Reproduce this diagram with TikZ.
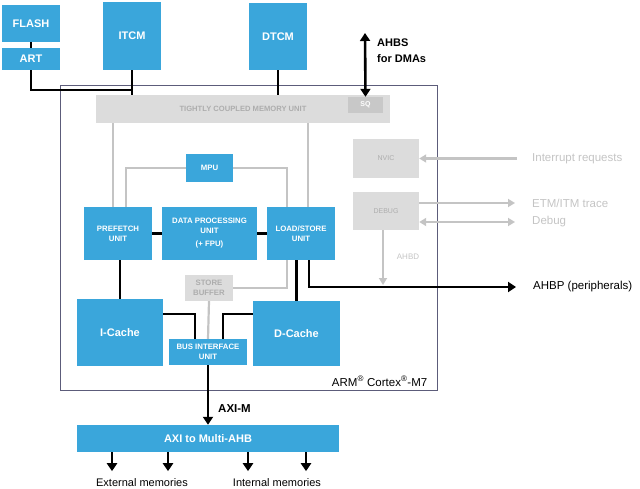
\documentclass[tikz,border=0pt]{standalone}
\usepackage{fontspec}
\setmainfont{Liberation Sans}
\usetikzlibrary{arrows.meta,positioning,calc}
\definecolor{corecolor}{HTML}{3AA6DB}
\definecolor{dimcolor}{HTML}{DCDCDC}
\definecolor{dimtext}{HTML}{ADADAD}
\definecolor{dimline}{HTML}{C4C4C4}
\definecolor{sqcolor}{HTML}{C8C8C8}
\definecolor{framecolor}{HTML}{5C5C7A}

\begin{document}
\begin{tikzpicture}[
    x=1pt, y=-1pt,
    blk/.style={rectangle, fill=corecolor, text=white, align=center, inner sep=1pt, font=\bfseries\fontsize{7.8}{10}\selectfont},
    bigblk/.style={blk, font=\bfseries\fontsize{11}{13}\selectfont},
    dimblk/.style={rectangle, fill=dimcolor, text=dimtext, align=center, inner sep=1pt, font=\fontsize{7}{9}\selectfont},
    bus/.style={line width=2.6pt, black, >={Triangle[length=8pt, width=10pt]}},
    busarrow/.style={bus, ->},
    dimbus/.style={line width=2.2pt, dimline, >={Triangle[length=7pt, width=8pt]}},
    dimarrow/.style={dimbus, ->},
    txt/.style={font=\fontsize{11.5}{14}\selectfont, inner sep=0pt},
    dimtxt/.style={txt, text=dimline}
]
\useasboundingbox (0,0) rectangle (640,489);

% Core frame
\node[draw=framecolor, line width=0.9pt, minimum width=377, minimum height=305, inner sep=0pt] (core) at (248.5,237.5) {};
\node[txt, anchor=south east] (corelbl) at ([xshift=-10, yshift=4]core.south east) {ARM\textsuperscript{®} Cortex\textsuperscript{®}-M7};

% External memories on top
\node[bigblk, minimum width=58, minimum height=37] (flash) at (31,23.5) {FLASH};
\node[bigblk, minimum width=58, minimum height=22] (art) at (31,59) {ART};
\node[bigblk, minimum width=58, minimum height=68] (itcm) at (132,36) {ITCM};
\node[bigblk, minimum width=58, minimum height=67] (dtcm) at (278,36.5) {DTCM};

% Tightly coupled memory unit
\node[dimblk, minimum width=294, minimum height=28, font=\bfseries\fontsize{7.6}{9}\selectfont] (tcm) at (243,109) {TIGHTLY COUPLED MEMORY UNIT};
\node[dimblk, fill=sqcolor, text=white, minimum width=35, minimum height=16, font=\bfseries\fontsize{7}{8}\selectfont] (sq) at (365.5,105) {SQ};

% Processor units
\node[blk, minimum width=47, minimum height=28] (mpu) at (209.5,168) {MPU};
\node[blk, minimum width=68, minimum height=53] (prefetch) at (118,233.5) {PREFETCH\\UNIT};
\node[blk, minimum width=95, minimum height=53] (dpu) at (209.5,233.5) {DATA PROCESSING\\UNIT\\[3pt](+ FPU)};
\node[blk, minimum width=68, minimum height=53] (lsu) at (301,233.5) {LOAD/STORE\\UNIT};
\node[dimblk, minimum width=48, minimum height=26, font=\bfseries\fontsize{7.8}{10}\selectfont] (sbuf) at (209,288) {STORE\\BUFFER};
\node[bigblk, minimum width=86, minimum height=67] (icache) at (120,332.5) {I-Cache};
\node[bigblk, minimum width=87, minimum height=65] (dcache) at (296.5,333.5) {D-Cache};
\node[blk, minimum width=78, minimum height=26] (biu) at (208,352) {BUS INTERFACE\\UNIT};

% NVIC and debug
\node[dimblk, minimum width=66, minimum height=39] (nvic) at (386,158.5) {NVIC};
\node[dimblk, minimum width=66, minimum height=38] (debug) at (386,211) {DEBUG};

% AXI bridge
\node[bigblk, minimum width=262, minimum height=27] (axi) at (208,438.5) {AXI to Multi-AHB};

% Free ends
\coordinate (dmaend) at (365,33);
\coordinate (irqsrc) at (517,158.5);
\coordinate (etmend) at (515,203);
\coordinate (dbgend) at (515,222);
\coordinate (ahbpend) at (516,287);
\coordinate (pfA) at ([xshift=-5]prefetch.north);
\coordinate (pfB) at ([xshift=8]prefetch.north);
\coordinate (lsA) at ([xshift=-14]lsu.north);
\coordinate (lsB) at ([xshift=7]lsu.north);
\coordinate (lsC) at ([xshift=-14]lsu.south);
\coordinate (dbgdown) at ([xshift=-3]debug.south);

% Grey connectors
\draw[dimbus] (tcm.south -| pfA) -- (pfA);
\draw[dimbus] (tcm.south -| lsB) -- (lsB);
\draw[dimbus] (mpu.west) -| (pfB);
\draw[dimbus] (mpu.east) -| (lsA);
\draw[dimbus] (sbuf.east) -| (lsC);
\draw[dimbus] (sbuf.south) -- (biu.north);
\draw[dimarrow] (irqsrc) -- (nvic.east);
\draw[dimarrow] ([yshift=8]debug.east) -- (etmend);
\draw[dimbus, <->] ([yshift=-11]debug.east) -- (dbgend);
\draw[dimarrow] (dbgdown) -- ([yshift=2]dbgdown |- ahbpend);

% Black connectors
\draw[bus] (flash.south) -- (art.north);
\draw[bus] (art.south) -- ++(0,20) -| (itcm.south);
\draw[bus] (itcm.south) -- (itcm.south |- tcm.north);
\draw[bus] (dtcm.south) -- (dtcm.south |- tcm.north);
\draw[bus, <->] (dmaend) -- (sq.north);
\draw[bus] (prefetch.east) -- (dpu.west);
\draw[bus] (dpu.east) -- (lsu.west);
\draw[bus] (icache.north) -- (icache.north |- prefetch.south);
\draw[bus] (dcache.north) -- (dcache.north |- lsu.south);
\draw[busarrow] ([xshift=8]lsu.south) |- (ahbpend);
\draw[bus] ([yshift=18.5]icache.east) -| ([xshift=-13]biu.north);
\draw[bus] ([yshift=19.5]dcache.west) -| ([xshift=15]biu.north);
\draw[busarrow] (biu.south) -- (axi.north);
\foreach \dx in {-96,-40,40,98}
    \draw[busarrow] ([xshift=\dx]axi.south) -- ++(0,19);

% Labels
\node[txt, font=\bfseries\fontsize{11}{16}\selectfont, align=left, anchor=west] (ahbslbl) at (377,51) {AHBS\\for DMAs};
\node[txt, font=\bfseries\fontsize{11.5}{14}\selectfont, anchor=west] (aximlbl) at (218,409) {AXI-M};
\node[txt, right=17pt of ahbpend] (ahbplbl) {AHBP (peripherals)};
\node[dimtxt, right=15pt of irqsrc] (irqlbl) {Interrupt requests};
\node[dimtxt, right=17pt of etmend] (etmlbl) {ETM/ITM trace};
\node[dimtxt, right=17pt of dbgend] (dbglbl) {Debug};
\node[txt, text=dimline, font=\fontsize{8}{9}\selectfont] (ahbdlbl) at (408,257) {AHBD};
\node[txt, font=\fontsize{11}{13}\selectfont] (extlbl) at (142,483) {External memories};
\node[txt, font=\fontsize{11}{13}\selectfont] (intlbl) at (277,483) {Internal memories};

\end{tikzpicture}
\end{document}
